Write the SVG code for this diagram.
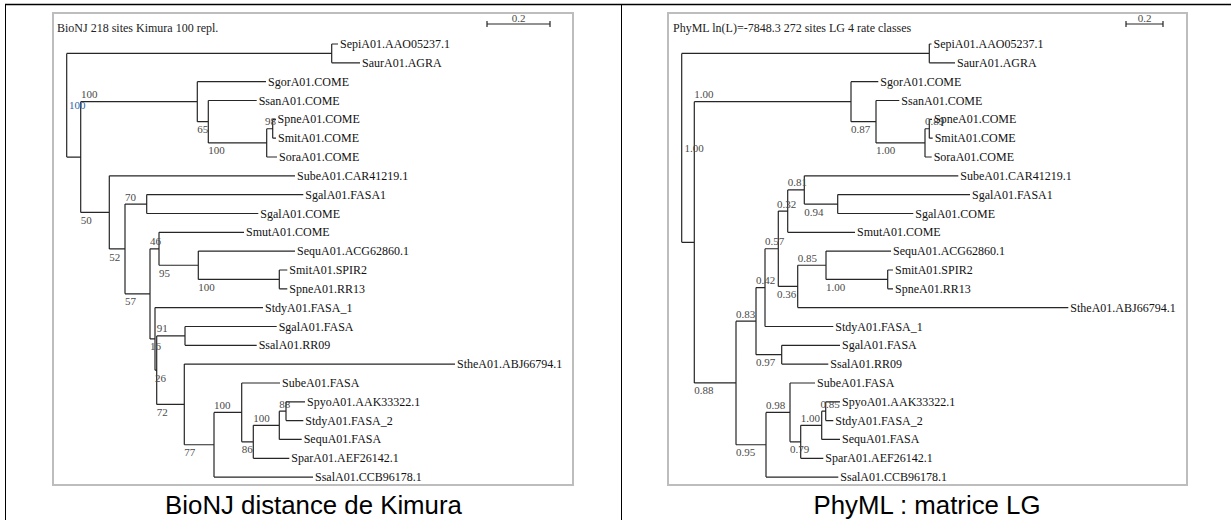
<svg xmlns="http://www.w3.org/2000/svg" width="1231" height="520" viewBox="0 0 1231 520">
<style>
.tbl{stroke:#000;fill:none}
.frame{fill:#fff;stroke:#bdbdbd;stroke-width:2}
.br{fill:none;stroke:#262626;stroke-width:1.2}
.leaf{font-family:"Liberation Serif","Times New Roman",serif;font-size:12px;fill:#111}
.sup{font-family:"Liberation Serif","Times New Roman",serif;font-size:11px;fill:#4a4a4a}
.title{font-family:"Liberation Serif","Times New Roman",serif;font-size:12px;fill:#222}
.cap{font-family:"Liberation Sans",Arial,sans-serif;font-size:25.8px;fill:#000;text-anchor:middle}
</style>
<rect width="1231" height="520" fill="#fff"/>
<g id="table">
<line class="tbl" x1="5" y1="4.5" x2="1231" y2="4.5" stroke-width="1.5"/>
<line class="tbl" x1="5.5" y1="4" x2="5.5" y2="520"/>
<line class="tbl" x1="621.5" y1="4" x2="621.5" y2="520"/>
</g>
<g id="frame-left"><rect class="frame" x="53" y="13" width="520" height="472"/></g>
<g id="frame-right"><rect class="frame" x="668" y="13" width="519" height="472"/></g>
<g id="titles">
<text class="title" x="57" y="32">BioNJ 218 sites Kimura 100 repl.</text>
<text class="title" x="673" y="32">PhyML ln(L)=-7848.3 272 sites LG 4 rate classes</text>
</g>
<g id="scalebars">
<path class="br" d="M487 24 H550 M487 21 V27 M550 21 V27"/>
<text class="sup" x="518.5" y="22" text-anchor="middle">0.2</text>
<path class="br" d="M1126 24 H1163 M1126 21 V27 M1163 21 V27"/>
<text class="sup" x="1144.5" y="22" text-anchor="middle">0.2</text>
</g>
<g id="connectors">
<path class="br" d="M66.7 53.4 V157.05 M66.7 53.4 H331.7 M66.7 157.05 H80.7
M331.7 44 V62.8 M331.7 44 H338 M331.7 62.8 H360
M80.7 101.7 V212.4 M80.7 101.7 H197.3 M80.7 212.4 H109.3
M197.3 81.7 V121.7 M197.3 81.7 H266 M197.3 121.7 H208.3
M208.3 100.5 V142.9 M208.3 100.5 H256.7 M208.3 142.9 H266.7
M266.7 128.75 V157 M266.7 128.75 H272.7 M266.7 157 H277
M272.7 119.3 V138.2 M272.7 119.3 H276 M272.7 138.2 H276
M109.3 175.8 V248.95 M109.3 175.8 H295 M109.3 248.95 H125
M125 204.05 V293.85 M125 204.05 H146.7 M125 293.85 H150
M146.7 194.6 V213.5 M146.7 194.6 H303.3 M146.7 213.5 H258.3
M150 248.8 V338.9 M150 248.8 H159 M150 338.9 H155
M159 232.3 V265.25 M159 232.3 H244 M159 265.25 H198.3
M198.3 251.1 V279.4 M198.3 251.1 H295 M198.3 279.4 H279.3
M279.3 270 V288.8 M279.3 270 H287.3 M279.3 288.8 H287.3
M155 307.6 V370.15 M155 307.6 H263 M155 370.15 H156.7
M156.7 335.9 V404.4 M156.7 335.9 H185 M156.7 404.4 H184.3
M185 326.5 V345.3 M185 326.5 H276.7 M185 345.3 H256.7
M184.3 364.1 V444.75 M184.3 364.1 H455 M184.3 444.75 H214
M214 412.4 V477.1 M214 412.4 H241.7 M214 477.1 H313
M241.7 383 V441.8 M241.7 383 H280 M241.7 441.8 H253.3
M253.3 425.3 V458.3 M253.3 425.3 H279.3 M253.3 458.3 H289.3
M279.3 411.2 V439.4 M279.3 411.2 H286 M279.3 439.4 H301.7
M286 401.8 V420.6 M286 401.8 H305 M286 420.6 H303.3"/>
<path class="br" d="M681.7 53.4 V242.3 M681.7 53.4 H929.3 M681.7 242.3 H694.3
M929.3 44 V62.8 M929.3 44 H931.5 M929.3 62.8 H955
M694.3 101.7 V382.95 M694.3 101.7 H851 M694.3 382.95 H736
M851 81.7 V121.7 M851 81.7 H878.3 M851 121.7 H876
M876 100.5 V142.9 M876 100.5 H899.3 M876 142.9 H925
M925 128.75 V157 M925 128.75 H929.3 M925 157 H931.7
M929.3 119.3 V138.2 M929.3 119.3 H932 M929.3 138.2 H932.7
M736 321.15 V444.75 M736 321.15 H756 M736 444.75 H766
M756 287.6 V354.7 M756 287.6 H765 M756 354.7 H781.7
M765 248.75 V326.5 M765 248.75 H778.3 M765 326.5 H833.3
M778.3 211.1 V286.4 M778.3 211.1 H787.7 M778.3 286.4 H797.7
M787.7 189.9 V232.3 M787.7 189.9 H804.3 M787.7 232.3 H855
M804.3 175.8 V204.05 M804.3 175.8 H958.3 M804.3 204.05 H837.7
M837.7 194.6 V213.5 M837.7 194.6 H970 M837.7 213.5 H913.3
M797.7 265.25 V307.6 M797.7 265.25 H826 M797.7 307.6 H1068.3
M826 251.1 V279.4 M826 251.1 H891 M826 279.4 H887.7
M887.7 270 V288.8 M887.7 270 H893 M887.7 288.8 H893
M781.7 345.3 V364.1 M781.7 345.3 H840 M781.7 364.1 H828.3
M766 412.4 V477.1 M766 412.4 H790 M766 477.1 H838.3
M790 383 V441.8 M790 383 H815 M790 441.8 H800.7
M800.7 425.3 V458.3 M800.7 425.3 H821.7 M800.7 458.3 H823.3
M821.7 411.2 V439.4 M821.7 411.2 H825.7 M821.7 439.4 H840
M825.7 401.8 V420.6 M825.7 401.8 H840 M825.7 420.6 H833.3"/>
</g>
<g id="supports-left">
<text class="sup" x="69" y="109.2" style="fill:#2e64a0">100</text>
<text class="sup" x="81" y="98.2">100</text>
<text class="sup" x="197.3" y="133.2">65</text>
<text class="sup" x="208.3" y="154.4">100</text>
<text class="sup" x="265" y="125.2">98</text>
<text class="sup" x="80.7" y="223.9">50</text>
<text class="sup" x="109.3" y="260.5">52</text>
<text class="sup" x="125" y="200.5">70</text>
<text class="sup" x="125" y="305.3">57</text>
<text class="sup" x="150" y="245.3">46</text>
<text class="sup" x="159" y="276.7">95</text>
<text class="sup" x="198.3" y="290.9">100</text>
<text class="sup" x="150" y="350.4">16</text>
<text class="sup" x="156.7" y="332.4">91</text>
<text class="sup" x="155" y="381.6">26</text>
<text class="sup" x="156.7" y="415.9">72</text>
<text class="sup" x="184.3" y="456.2">77</text>
<text class="sup" x="214" y="408.9">100</text>
<text class="sup" x="241.7" y="453.3">86</text>
<text class="sup" x="253.3" y="421.8">100</text>
<text class="sup" x="279.3" y="407.7">88</text>
</g>
<g id="supports-right">
<text class="sup" x="684.5" y="151.8">1.00</text>
<text class="sup" x="694.3" y="98.2">1.00</text>
<text class="sup" x="851" y="133.2">0.87</text>
<text class="sup" x="876" y="154.4">1.00</text>
<text class="sup" x="925" y="125.2">0.89</text>
<text class="sup" x="694.3" y="394.4">0.88</text>
<text class="sup" x="736" y="317.6">0.83</text>
<text class="sup" x="736" y="456.2">0.95</text>
<text class="sup" x="756" y="284.1">0.42</text>
<text class="sup" x="756" y="366.2">0.97</text>
<text class="sup" x="765" y="245.2">0.57</text>
<text class="sup" x="777" y="297.9">0.36</text>
<text class="sup" x="777" y="207.6">0.32</text>
<text class="sup" x="787.7" y="186.4">0.81</text>
<text class="sup" x="804.3" y="215.5">0.94</text>
<text class="sup" x="797.7" y="261.7">0.85</text>
<text class="sup" x="826" y="290.9">1.00</text>
<text class="sup" x="766" y="408.9">0.98</text>
<text class="sup" x="790" y="453.3">0.79</text>
<text class="sup" x="800.7" y="421.8">1.00</text>
<text class="sup" x="820.5" y="407.7">0.85</text>
</g>
<g id="leaves-left" class="leaf">
<g id="l-sepi"><text x="340" y="48">SepiA01.AAO05237.1</text></g>
<g id="l-saur"><text x="362" y="66.8">SaurA01.AGRA</text></g>
<g id="l-sgor"><text x="268" y="85.7">SgorA01.COME</text></g>
<g id="l-ssan"><text x="258.7" y="104.5">SsanA01.COME</text></g>
<g id="l-spnec"><text x="277.5" y="123.3">SpneA01.COME</text></g>
<g id="l-smitc"><text x="278" y="142.2">SmitA01.COME</text></g>
<g id="l-sora"><text x="279" y="161">SoraA01.COME</text></g>
<g id="l-subecar"><text x="297" y="179.8">SubeA01.CAR41219.1</text></g>
<g id="l-sgalfasa1"><text x="305.3" y="198.6">SgalA01.FASA1</text></g>
<g id="l-sgalcome"><text x="260.3" y="217.5">SgalA01.COME</text></g>
<g id="l-smut"><text x="246" y="236.3">SmutA01.COME</text></g>
<g id="l-sequacg"><text x="297" y="255.1">SequA01.ACG62860.1</text></g>
<g id="l-smitspir"><text x="289.3" y="274">SmitA01.SPIR2</text></g>
<g id="l-spnerr"><text x="289.3" y="292.8">SpneA01.RR13</text></g>
<g id="l-stdy1"><text x="265" y="311.6">StdyA01.FASA_1</text></g>
<g id="l-sgalfasa"><text x="278.7" y="330.5">SgalA01.FASA</text></g>
<g id="l-ssalrr"><text x="258.7" y="349.3">SsalA01.RR09</text></g>
<g id="l-sthe"><text x="457" y="368.1">StheA01.ABJ66794.1</text></g>
<g id="l-subefasa"><text x="282" y="387">SubeA01.FASA</text></g>
<g id="l-spyo"><text x="307" y="405.8">SpyoA01.AAK33322.1</text></g>
<g id="l-stdy2"><text x="305.3" y="424.6">StdyA01.FASA_2</text></g>
<g id="l-sequfasa"><text x="303.7" y="443.4">SequA01.FASA</text></g>
<g id="l-spar"><text x="291.3" y="462.3">SparA01.AEF26142.1</text></g>
<g id="l-ssalccb"><text x="315" y="481.1">SsalA01.CCB96178.1</text></g>
</g>
<g id="leaves-right" class="leaf">
<g id="r-sepi"><text x="933.5" y="48">SepiA01.AAO05237.1</text></g>
<g id="r-saur"><text x="957" y="66.8">SaurA01.AGRA</text></g>
<g id="r-sgor"><text x="880.3" y="85.7">SgorA01.COME</text></g>
<g id="r-ssan"><text x="901.3" y="104.5">SsanA01.COME</text></g>
<g id="r-spnec"><text x="934" y="123.3">SpneA01.COME</text></g>
<g id="r-smitc"><text x="934.7" y="142.2">SmitA01.COME</text></g>
<g id="r-sora"><text x="933.7" y="161">SoraA01.COME</text></g>
<g id="r-subecar"><text x="960.3" y="179.8">SubeA01.CAR41219.1</text></g>
<g id="r-sgalfasa1"><text x="972" y="198.6">SgalA01.FASA1</text></g>
<g id="r-sgalcome"><text x="915.3" y="217.5">SgalA01.COME</text></g>
<g id="r-smut"><text x="857" y="236.3">SmutA01.COME</text></g>
<g id="r-sequacg"><text x="893" y="255.1">SequA01.ACG62860.1</text></g>
<g id="r-smitspir"><text x="895" y="274">SmitA01.SPIR2</text></g>
<g id="r-spnerr"><text x="895" y="292.8">SpneA01.RR13</text></g>
<g id="r-sthe"><text x="1070.3" y="311.6">StheA01.ABJ66794.1</text></g>
<g id="r-stdy1"><text x="835.3" y="330.5">StdyA01.FASA_1</text></g>
<g id="r-sgalfasa"><text x="842" y="349.3">SgalA01.FASA</text></g>
<g id="r-ssalrr"><text x="830.3" y="368.1">SsalA01.RR09</text></g>
<g id="r-subefasa"><text x="817" y="387">SubeA01.FASA</text></g>
<g id="r-spyo"><text x="842" y="405.8">SpyoA01.AAK33322.1</text></g>
<g id="r-stdy2"><text x="835.3" y="424.6">StdyA01.FASA_2</text></g>
<g id="r-sequfasa"><text x="842" y="443.4">SequA01.FASA</text></g>
<g id="r-spar"><text x="825.3" y="462.3">SparA01.AEF26142.1</text></g>
<g id="r-ssalccb"><text x="840.3" y="481.1">SsalA01.CCB96178.1</text></g>
</g>
<g id="captions">
<text class="cap" x="313.5" y="514">BioNJ distance de Kimura</text>
<text class="cap" x="927" y="514">PhyML : matrice LG</text>
</g>
</svg>
